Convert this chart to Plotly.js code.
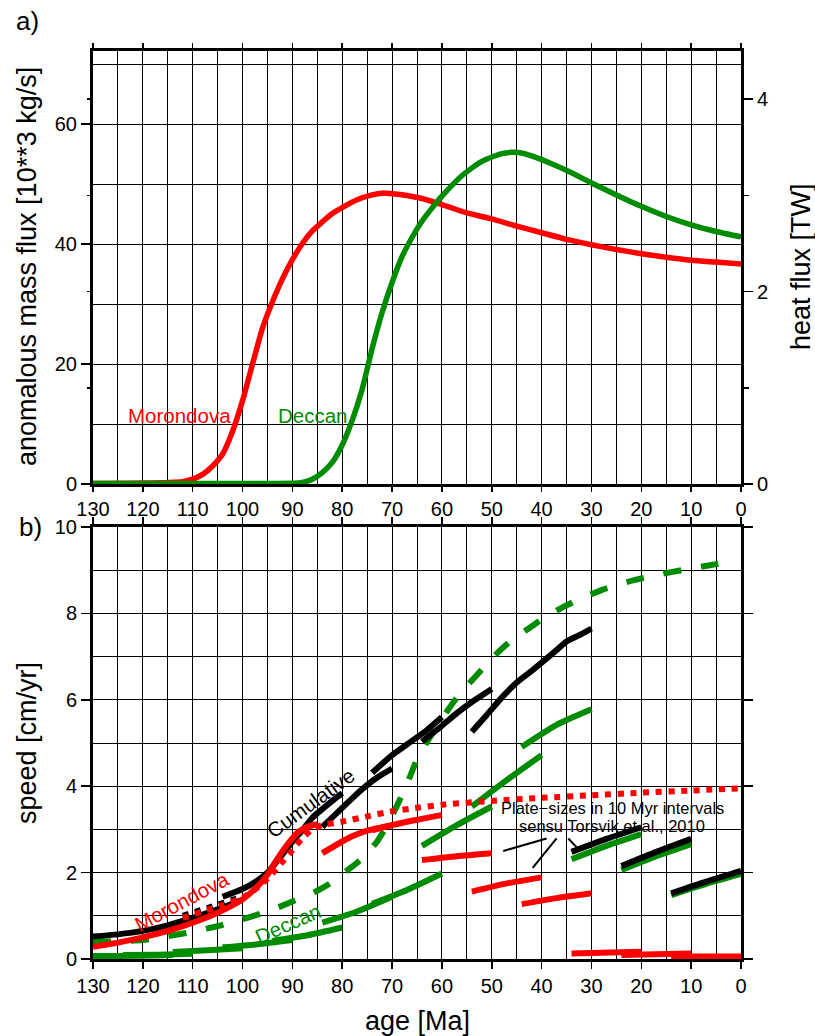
<!DOCTYPE html>
<html><head><meta charset="utf-8">
<script src="https://cdn.plot.ly/plotly-3.0.1.min.js"></script>
<style>body{margin:0;background:#fff}</style>
</head><body>
<div id="plot" style="width:815px;height:1036px"></div>
<script>
// ---------- panel a: anomalous mass flux ----------
const morAge  = [130,120,112,110,108,106,104,102,100,98,96,94,92,90,88,86,84,82,80,77,74,72,70,67,64,60,55,50,45,40,35,30,25,20,15,10,5,0];
const morFlux = [0.1,0.15,0.4,0.8,1.6,3.0,5.0,8.8,13.9,20,26,30.4,34.2,37.4,40.1,42.2,43.7,45.1,46.1,47.4,48.2,48.5,48.4,48.1,47.6,46.6,45.2,44.2,43,41.9,40.8,39.9,39.1,38.4,37.8,37.3,37.0,36.7];
const decAge  = [130,110,100,90,88,86,84,82,80,78,76,74,72,70,68,66,64,62,60,56,52,48,46,44,42,38,34,30,25,20,15,10,5,0];
const decFlux = [0.1,0.1,0.1,0.12,0.25,0.8,1.9,3.6,6.5,10.6,15.8,22.6,28.6,33.6,37.9,41.1,43.8,46,48,51.4,53.8,55.1,55.3,55.2,54.7,53.4,51.9,50.2,48.2,46.3,44.6,43.2,42.1,41.2];

// ---------- panel b: speeds (segments) ----------
const blackAges = [
  [130,125,120,115,110,105,100],
  [104,100,97,95,93.5,92,90,88,86,84,82,80],
  [84,80,78,76,73,70],
  [74,70,66,63,60],
  [64,60,57,54,50],
  [54,51,48,45,42,40,37,35,32,30],
  [34,27,20],[24,17,10],[14,7,0]
];
const blackSpeeds = [
  [0.52,0.57,0.65,0.78,0.95,1.15,1.37],
  [1.44,1.62,1.82,2.0,2.2,2.42,2.72,2.98,3.27,3.47,3.66,3.84],
  [3.06,3.5,3.72,3.93,4.2,4.41],
  [4.31,4.72,5.05,5.3,5.6],
  [5.03,5.4,5.69,5.95,6.25],
  [5.26,5.65,6.05,6.4,6.67,6.86,7.15,7.35,7.52,7.65],
  [2.48,2.78,3.05],[2.15,2.48,2.78],[1.52,1.79,2.04]
];
const greenAges = [
  [130,124,118,114],[124,117,110],[114,107,100],[104,97,90],[94,87,80],[84,77,70],[74,67,60],
  [64,57,50],[54,47,40],[44,37,30],[34,27,20],[24,17,10],[14,7,0]
];
const greenSpeeds = [
  [0.07,0.07,0.08,0.09],[0.09,0.1,0.12],[0.16,0.2,0.25],[0.27,0.34,0.44],[0.42,0.55,0.73],[0.84,1.1,1.44],[1.28,1.6,1.98],
  [2.62,3.1,3.53],[3.53,4.14,4.72],[4.91,5.42,5.78],[2.31,2.62,2.89],[2.06,2.38,2.66],[1.48,1.74,1.97]
];
const redAges = [
  [130,125,120,115,110,105,100,97,95,93,91,89,87,85],
  [84,80,78,75,72,70],[74,70,66,62,60],[64,57,50],[54,47,40],[44,37,30],[34,20],[24,10],[14,0]
];
const redSpeeds = [
  [0.28,0.38,0.5,0.65,0.84,1.07,1.38,1.68,1.95,2.32,2.65,2.92,3.06,3.12],
  [2.45,2.72,2.84,2.97,3.05,3.1],[2.98,3.1,3.2,3.29,3.33],[2.29,2.38,2.45],[1.56,1.75,1.89],[1.27,1.41,1.52],[0.13,0.17],[0.09,0.13],[0.06,0.06]
];
const redDotAges   = [112,108,104,100,97,94,92,90,88,86,84,80,75,70,65,60,50,40,30,20,10,0];
const redDotSpeeds = [0.95,1.1,1.25,1.42,1.65,1.98,2.25,2.52,2.8,3.0,3.1,3.18,3.3,3.42,3.5,3.57,3.66,3.73,3.79,3.85,3.9,3.95];
const blackDotAges   = [112,106,100];
const blackDotSpeeds = [1.0,1.22,1.44];
const greenDashAges   = [130,125,120,115,110,105,100,95,90,85,82,79,77,75,73,71,69,67,65,63,61,59,57,55,52,49,46,43,40,36,32,28,24,20,16,12,8,5,2.5];
const greenDashSpeeds = [0.40,0.41,0.44,0.53,0.63,0.76,0.92,1.1,1.33,1.58,1.78,2.05,2.23,2.45,2.72,3.1,3.55,4.05,4.62,5.02,5.38,5.73,6.05,6.32,6.7,7.07,7.38,7.62,7.86,8.13,8.35,8.54,8.69,8.81,8.91,9.0,9.08,9.14,9.2];
const pointerAges   = [[47.7,39.0],[41.8,37.0],[34.65,33.0]];
const pointerSpeeds = [[2.50,2.79],[2.11,2.79],[2.79,2.59]];

const ageTicks = [130,120,110,100,90,80,70,60,50,40,30,20,10,0];

const RED = '#ff0000', GREEN = 'rgb(0,140,0)', BLACK = '#000';
const traces = [];
traces.push({x:morAge, y:morFlux, xaxis:'x', yaxis:'y', mode:'lines', line:{color:RED, width:5.5, shape:'spline', smoothing:0.6}, hoverinfo:'skip'});
traces.push({x:decAge, y:decFlux, xaxis:'x', yaxis:'y', mode:'lines', line:{color:GREEN, width:5.5, shape:'spline', smoothing:0.6}, hoverinfo:'skip'});
// dummy traces so the overlay axes exist
traces.push({x:[0], y:[0], xaxis:'x', yaxis:'y2', mode:'markers', marker:{opacity:0, size:1}, hoverinfo:'skip'});
traces.push({x:[0], y:[0], xaxis:'x', yaxis:'y3', mode:'markers', marker:{opacity:0, size:1}, hoverinfo:'skip'});

function addSegs(agesList, speedsList, color, width, dash) {
  agesList.forEach((a, i) => traces.push({
    x:a, y:speedsList[i], xaxis:'x2', yaxis:'y4', mode:'lines',
    line:{color:color, width:width, dash:dash || 'solid', shape:'spline', smoothing:0.6}, hoverinfo:'skip'
  }));
}
addSegs([greenDashAges], [greenDashSpeeds], GREEN, 6, '18px,20px');
addSegs(greenAges, greenSpeeds, GREEN, 6);
addSegs(blackAges, blackSpeeds, BLACK, 6);
addSegs(redAges, redSpeeds, RED, 6);
addSegs([blackDotAges], [blackDotSpeeds], BLACK, 6, '6px,6.7px');
addSegs([redDotAges], [redDotSpeeds], RED, 6, '6px,6.7px');
addSegs(pointerAges, pointerSpeeds, BLACK, 2);

const XD = [93/815, 741/815];
const gridW = 1;
function xAxis(anchor, tl) {
  return {domain:XD, anchor:anchor, range:[130,0], tickmode:'array', tickvals:ageTicks,
    ticks:'outside', ticklen:tl, tickwidth:1.5, tickcolor:BLACK, showline:true, linewidth:3, linecolor:BLACK,
    mirror:'ticks', showgrid:true, gridcolor:BLACK, gridwidth:gridW,
    minor:{dtick:5, tick0:0, showgrid:true, gridcolor:BLACK, gridwidth:gridW},
    zeroline:false, tickfont:{size:20}};
}
const layout = {
  width:815, height:1036, margin:{l:0, r:0, t:0, b:0},
  paper_bgcolor:'#fff', plot_bgcolor:'#fff', showlegend:false,
  font:{family:'Liberation Sans, Arial, sans-serif', color:BLACK, size:20},
  xaxis: xAxis('y', 5),
  xaxis2: xAxis('y4', 7),
  yaxis: {domain:[1-484/1036, 1-51/1036], anchor:'x', range:[0,72.2], dtick:20, tick0:0,
    ticks:'outside', ticklen:9, tickwidth:1.5, tickcolor:BLACK, showline:true, linewidth:3, linecolor:BLACK,
    showgrid:true, gridcolor:BLACK, gridwidth:gridW,
    minor:{dtick:10, tick0:0, showgrid:true, gridcolor:BLACK, gridwidth:gridW},
    zeroline:false, tickfont:{size:20}},
  yaxis2: {overlaying:'y', side:'right', anchor:'x', range:[0,4.5], dtick:2, tick0:0,
    ticks:'outside', ticklen:9, tickwidth:1.5, tickcolor:BLACK, showline:true, linewidth:3, linecolor:BLACK,
    showgrid:false, zeroline:false,
    minor:{dtick:1, tick0:0, ticks:'outside', ticklen:5, tickwidth:1.5, tickcolor:BLACK, showgrid:false},
    tickfont:{size:20}},
  yaxis3: {overlaying:'y', side:'left', anchor:'x', range:[0,4.5], dtick:1, tick0:0,
    ticks:'outside', ticklen:5, tickwidth:1.5, tickcolor:BLACK, showticklabels:false,
    showgrid:false, showline:false, zeroline:false},
  yaxis4: {domain:[1-959/1036, 1-527/1036], anchor:'x2', range:[0,10], dtick:2, tick0:0,
    ticks:'outside', ticklen:9, tickwidth:1.5, tickcolor:BLACK, showline:true, linewidth:3, linecolor:BLACK,
    mirror:'ticks', showgrid:true, gridcolor:BLACK, gridwidth:gridW,
    minor:{dtick:1, tick0:0, showgrid:true, gridcolor:BLACK, gridwidth:gridW},
    zeroline:false, tickfont:{size:20}},
  annotations: [
    {text:'a)', xref:'paper', yref:'paper', x:27/815, y:1-21/1036, showarrow:false, font:{size:26}, xanchor:'center', yanchor:'middle'},
    {text:'b)', xref:'paper', yref:'paper', x:30/815, y:1-527/1036, showarrow:false, font:{size:26}, xanchor:'center', yanchor:'middle'},
    {text:'anomalous mass flux [10**3 kg/s]', xref:'paper', yref:'paper', x:27/815, y:1-267/1036, textangle:-90, showarrow:false, font:{size:27}, xanchor:'center', yanchor:'middle'},
    {text:'heat flux [TW]', xref:'paper', yref:'paper', x:801/815, y:1-267/1036, textangle:-90, showarrow:false, font:{size:27}, xanchor:'center', yanchor:'middle'},
    {text:'speed [cm/yr]', xref:'paper', yref:'paper', x:27/815, y:1-743/1036, textangle:-90, showarrow:false, font:{size:27}, xanchor:'center', yanchor:'middle'},
    {text:'age [Ma]', xref:'paper', yref:'paper', x:417/815, y:1-1021/1036, showarrow:false, font:{size:27}, xanchor:'center', yanchor:'middle'},
    {text:'Morondova', xref:'x', yref:'y', x:112.6, y:11.5, showarrow:false, font:{size:20.5, color:RED}},
    {text:'Deccan', xref:'x', yref:'y', x:85.8, y:11.5, showarrow:false, font:{size:20.5, color:GREEN}},
    {text:'Cumulative', xref:'x2', yref:'y4', x:86.3, y:3.63, textangle:-36, showarrow:false, font:{size:20.5, color:BLACK}},
    {text:'Morondova', xref:'x2', yref:'y4', x:112.3, y:1.34, textangle:-28, showarrow:false, font:{size:20.5, color:RED}},
    {text:'Deccan', xref:'x2', yref:'y4', x:90.9, y:0.83, textangle:-24, showarrow:false, font:{size:20.5, color:GREEN}},
    {text:'Plate\u2212sizes in 10 Myr intervals', xref:'x2', yref:'y4', x:25.85, y:3.5, showarrow:false, font:{size:16.5, color:BLACK}},
    {text:'sensu Torsvik et al., 2010', xref:'x2', yref:'y4', x:25.9, y:3.08, showarrow:false, font:{size:16.5, color:BLACK}}
  ]
};
Plotly.newPlot('plot', traces, layout, {displayModeBar:false, staticPlot:true});
</script>
</body></html>
